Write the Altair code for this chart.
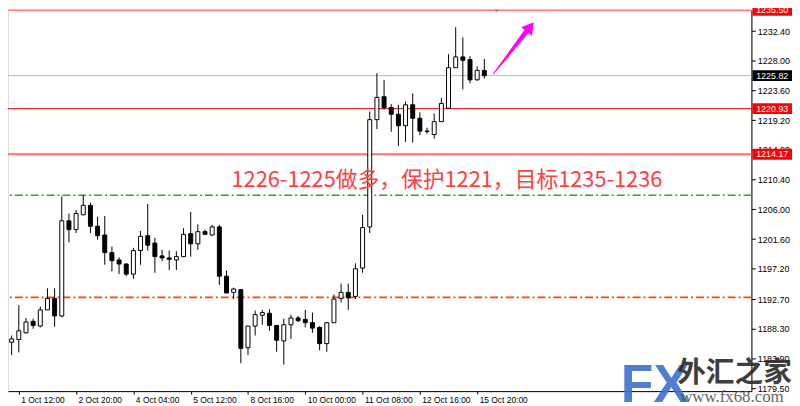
import altair as alt
import pandas as pd

# ---- candle data (4H bars), index 0 = "1 Oct 12:00" ----
bar_index = list(range(-2, 66))
opens = [1188.8, 1186.3, 1186.7, 1187.7, 1189.4, 1188.7, 1191.1, 1192.8, 1190.2, 1204.3,
         1203.0, 1205.2, 1206.6, 1203.5, 1202.2, 1199.6, 1198.5, 1197.9, 1196.4, 1199.9,
         1202.1, 1201.0, 1199.1, 1198.8, 1198.5, 1199.0, 1202.4, 1200.9, 1202.7, 1202.2,
         1203.4, 1196.1, 1193.7, 1194.1, 1185.5, 1188.7, 1190.3, 1190.6, 1188.8, 1186.5,
         1188.9, 1189.9, 1189.7, 1189.2, 1188.5, 1186.1, 1189.2, 1192.8, 1193.7, 1193.1,
         1197.3, 1203.4, 1219.3, 1222.7, 1221.1, 1220.1, 1218.4, 1221.5, 1219.5, 1217.55,
         1217.1, 1219.0, 1221.0, 1227.0, 1228.6, 1228.2, 1225.2, 1226.6]
highs = [1189.0, 1187.3, 1191.8, 1189.9, 1189.8, 1191.6, 1194.3, 1194.3, 1207.9, 1205.4,
         1205.9, 1208.1, 1207.0, 1204.9, 1205.0, 1200.5, 1198.9, 1198.0, 1200.3, 1202.8,
         1206.8, 1201.8, 1200.0, 1199.9, 1199.8, 1203.2, 1205.6, 1203.8, 1203.0, 1203.7,
         1203.7, 1196.9, 1194.4, 1194.2, 1188.7, 1191.0, 1191.1, 1191.2, 1188.8, 1189.8,
         1190.4, 1190.2, 1191.1, 1190.7, 1188.7, 1189.3, 1193.4, 1195.0, 1195.0, 1198.0,
         1205.2, 1220.5, 1226.2, 1225.2, 1221.6, 1221.5, 1222.0, 1223.2, 1220.4, 1218.1,
         1220.2, 1222.5, 1229.0, 1233.0, 1231.5, 1228.7, 1227.2, 1228.3]
lows = [1186.5, 1184.4, 1184.8, 1187.6, 1188.3, 1188.5, 1191.1, 1188.6, 1190.0, 1201.1,
        1202.5, 1205.1, 1202.5, 1201.5, 1197.8, 1196.8, 1196.4, 1196.1, 1195.7, 1197.8,
        1199.9, 1196.6, 1198.3, 1197.0, 1197.0, 1198.9, 1199.0, 1200.0, 1202.3, 1202.1,
        1194.8, 1193.6, 1192.7, 1183.2, 1184.4, 1187.3, 1188.9, 1188.0, 1184.9, 1183.0,
        1186.8, 1189.3, 1188.5, 1187.7, 1185.1, 1184.9, 1189.2, 1192.2, 1191.1, 1192.7,
        1196.6, 1202.5, 1217.9, 1220.8, 1217.5, 1215.4, 1216.0, 1215.9, 1217.0, 1217.2,
        1216.5, 1219.0, 1221.0, 1227.0, 1223.8, 1224.7, 1225.1, 1225.4]
closes = [1186.8, 1186.8, 1188.0, 1189.3, 1188.8, 1191.1, 1192.8, 1190.2, 1204.3, 1203.0,
          1205.4, 1206.6, 1203.5, 1202.1, 1199.6, 1198.4, 1197.9, 1196.4, 1199.9, 1202.0,
          1200.7, 1199.0, 1198.8, 1198.6, 1199.0, 1202.3, 1200.9, 1202.7, 1202.3, 1203.4,
          1196.1, 1193.6, 1194.2, 1185.4, 1188.7, 1190.4, 1190.7, 1188.8, 1186.6, 1188.9,
          1189.9, 1189.5, 1189.2, 1188.4, 1186.1, 1189.2, 1192.7, 1193.7, 1192.9, 1197.2,
          1203.3, 1219.3, 1222.6, 1221.1, 1220.1, 1218.4, 1221.5, 1219.5, 1217.6, 1217.6,
          1219.0, 1221.7, 1227.0, 1228.6, 1228.1, 1225.2, 1226.6, 1225.82]

x_tick_index = [0, 8, 16, 24, 32, 40, 48, 56, 64]
x_tick_labels = ["1 Oct 12:00", "2 Oct 20:00", "4 Oct 04:00", "5 Oct 12:00", "8 Oct 16:00",
                 "10 Oct 00:00", "11 Oct 08:00", "12 Oct 16:00", "15 Oct 20:00"]
y_tick_values = [1232.40, 1228.00, 1223.60, 1219.20, 1214.80, 1210.40, 1206.00, 1201.60,
                 1197.20, 1192.70, 1188.30, 1183.90, 1179.50]

level_values = [1235.50, 1225.82, 1220.93, 1214.17]
level_labels = ["1235.50", "1225.82", "1220.93", "1214.17"]
level_colors = ["#FF7A7A", "#B8B8B8", "#E00000", "#FF7070"]
level_widths = [1.5, 1, 1, 2]
level_bg = ["#FF0000", "#000000", "#FF0000", "#FF0000"]

dash_values = [1208.1, 1192.95]
dash_colors = ["#3A9E3A", "#FF4500"]

note_text = "1226-1225做多，保护1221，目标1235-1236"
note_pos = [29.7, 1210.3]

arrow_x = [66.28, 70.8]
arrow_y = [1226.1, 1232.26]
arrow_w = [1, 5]
arrow_head = [71.4, 1233.06]

W, H = 751, 385
FONT = "Liberation Sans"

df = pd.DataFrame({"i": bar_index, "open": opens, "high": highs, "low": lows, "close": closes})
df["dir"] = ["up" if c >= o else "down" for o, c in zip(opens, closes)]

xs = alt.Scale(domain=[-0.818, 101.6], nice=False, zero=False)
ys = alt.Scale(domain=[1179.06, 1235.55], nice=False, zero=False)

label_expr = "".join(f"datum.value == {v} ? '{t}' : " for v, t in zip(x_tick_index, x_tick_labels)) + "''"

xaxis = alt.Axis(values=x_tick_index, labelExpr=label_expr, tickSize=3, labelAlign="left",
                 labelBaseline="top", labelPadding=2, labelOffset=2, labelFlush=False,
                 labelOverlap=False, labelFontSize=8.5, labelFont=FONT, labelColor="#000",
                 grid=False, title=None, domainColor="#000", tickColor="#000")
yaxis = alt.Axis(orient="right", values=y_tick_values, format=".2f", tickSize=4, labelPadding=2,
                 labelFontSize=9, labelFont=FONT, labelColor="#000", grid=False, title=None,
                 domainColor="#000", tickColor="#000", labelOverlap=False, labelFlush=False,
                 labelBound=False)


def X(field):
    return alt.X(field, scale=xs, axis=xaxis)


def Y(field):
    return alt.Y(field, scale=ys, axis=yaxis)


base = alt.Chart(df)
wicks = base.mark_rule(color="#000", strokeWidth=1, clip=True).encode(
    x=X("i:Q"),
    y=Y("low:Q"),
    y2="high:Q",
)
bodies = base.mark_bar(size=4, stroke="#000", strokeWidth=1, clip=True).encode(
    x=X("i:Q"),
    y=Y("open:Q"),
    y2="close:Q",
    color=alt.Color("dir:N", scale=alt.Scale(domain=["up", "down"], range=["#FFFFFF", "#000000"]), legend=None),
)

levels = pd.DataFrame({"value": level_values, "label": level_labels, "color": level_colors,
                       "w": level_widths, "bg": level_bg})
level_lines = alt.Chart(levels).mark_rule().encode(
    y=Y("value:Q"),
    color=alt.Color("color:N", scale=None),
    strokeWidth=alt.StrokeWidth("w:Q", scale=None),
)
dashes = pd.DataFrame({"value": dash_values, "color": dash_colors})
dash_lines = alt.Chart(dashes).mark_rule(strokeDash=[8, 3, 2, 3], strokeWidth=1.6).encode(
    y=Y("value:Q"),
    color=alt.Color("color:N", scale=None),
)

boxes = alt.Chart(levels).mark_rule(strokeWidth=11, strokeCap="butt").encode(
    y=Y("value:Q"),
    x=alt.value(W + 1), x2=alt.value(W + 41),
    color=alt.Color("bg:N", scale=None),
)
box_text = alt.Chart(levels).mark_text(color="#FFFFFF", fontSize=9, font=FONT, align="center",
                                       baseline="middle").encode(
    y=Y("value:Q"), x=alt.value(W + 21), text="label:N")

note = alt.Chart(pd.DataFrame({"x": [note_pos[0]], "y": [note_pos[1]], "t": [note_text]})).mark_text(
    align="left", baseline="middle", fontSize=22, font="Noto Sans CJK SC", color="#FF4040"
).encode(x=X("x:Q"), y=Y("y:Q"), text="t:N")

arrow_df = pd.DataFrame({"x": arrow_x, "y": arrow_y, "w": arrow_w})
arrow = alt.Chart(arrow_df).mark_trail(color="#FF00FF").encode(
    x=X("x:Q"), y=Y("y:Q"), size=alt.Size("w:Q", scale=None))
head = alt.Chart(pd.DataFrame({"x": [arrow_head[0]], "y": [arrow_head[1]]})).mark_point(
    shape="triangle-up", size=190, angle=38, filled=True, color="#FF00FF", opacity=1
).encode(x=X("x:Q"), y=Y("y:Q"))

marker = alt.Chart(pd.DataFrame({"x": [66.7]})).mark_point(
    shape="triangle-down", size=18, filled=True, color="#9A9A9A", opacity=1
).encode(x=X("x:Q"), y=alt.value(1))

logo_fx = alt.Chart(pd.DataFrame({"t": ["FX"]})).mark_text(
    fontSize=54, fontWeight="bold", font=FONT, color="#3F6FD0", align="left", baseline="alphabetic", opacity=0.9
).encode(text="t:N", x=alt.value(619), y=alt.value(396))
logo_cn = alt.Chart(pd.DataFrame({"t": ["外汇之家"]})).mark_text(
    fontSize=29, fontWeight="bold", font="Noto Sans CJK SC", color="#2A2A2A", align="left", baseline="alphabetic", opacity=0.9
).encode(text="t:N", x=alt.value(676), y=alt.value(376))
logo_url = alt.Chart(pd.DataFrame({"t": ["www.fx68.com"]})).mark_text(
    fontSize=17, font="Liberation Serif", color="#555555", align="left", baseline="alphabetic", opacity=0.9
).encode(text="t:N", x=alt.value(679), y=alt.value(396))

chart = alt.layer(
    level_lines, dash_lines, wicks, bodies, note, arrow, head, marker, boxes, box_text,
    logo_fx, logo_cn, logo_url
).properties(
    width=W, height=H,
    autosize=alt.AutoSizeParams(type="none"),
    padding={"left": 0, "top": 0, "right": 41, "bottom": 13},
).configure_view(stroke=None).configure_axis(labelOverlap=False).configure(background="#FFFFFF")

chart.save("out.html", embed_options={"renderer": "svg", "actions": False})
